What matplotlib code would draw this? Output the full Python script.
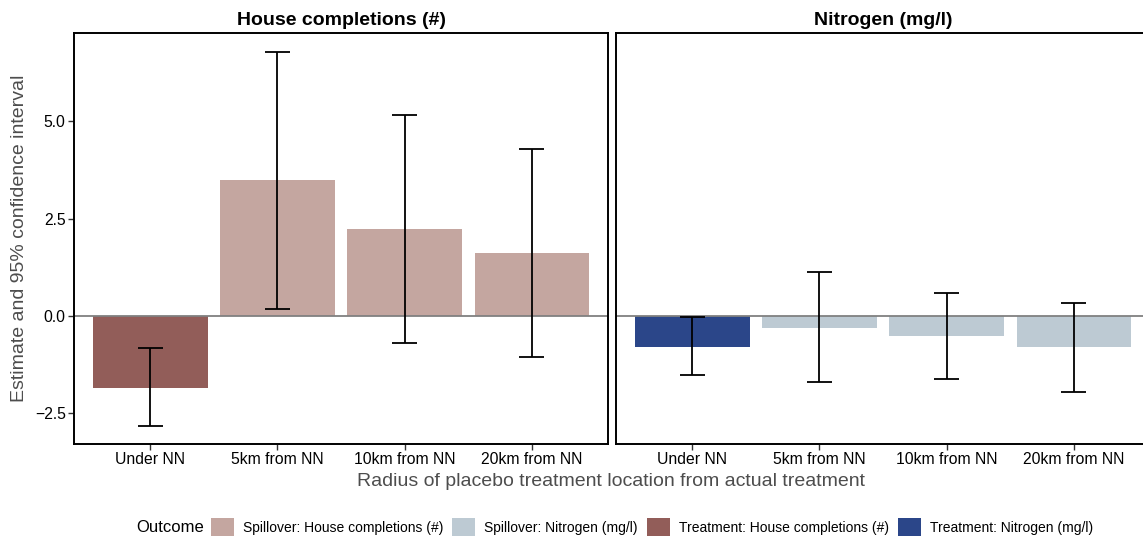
import numpy as np
import matplotlib
matplotlib.use("Agg")
import matplotlib.pyplot as plt
from matplotlib.patches import Patch
from matplotlib.ticker import FuncFormatter

plt.rcParams['font.family'] = ['Liberation Sans', 'DejaVu Sans']

categories = ["Under NN", "5km from NN", "10km from NN", "20km from NN"]
roles = ["Treatment", "Spillover", "Spillover", "Spillover"]

# house completions (#)
house_est = [-1.86, 3.50, 2.23, 1.62]
house_lo = [-2.84, 0.17, -0.72, -1.07]
house_hi = [-0.83, 6.80, 5.16, 4.30]

# nitrogen (mg/l)
nitro_est = [-0.80, -0.31, -0.54, -0.82]
nitro_lo = [-1.52, -1.71, -1.64, -1.96]
nitro_hi = [-0.05, 1.11, 0.59, 0.33]

colors = {
    ("Spillover", "House completions (#)"): "#c4a6a0",
    ("Spillover", "Nitrogen (mg/l)"): "#bdcad3",
    ("Treatment", "House completions (#)"): "#925d59",
    ("Treatment", "Nitrogen (mg/l)"): "#2b4689",
}

W, H = 1143, 538
fig = plt.figure(figsize=(W / 100, H / 100), dpi=100)

def px_axes(x0, x1, y0, y1):
    return fig.add_axes([x0 / W, 1 - y1 / H, (x1 - x0) / W, (y1 - y0) / H])

ax_h = px_axes(74, 608, 33, 444)
ax_n = px_axes(616, 1150, 33, 444)

panels = [
    (ax_h, "House completions (#)", house_est, house_lo, house_hi),
    (ax_n, "Nitrogen (mg/l)", nitro_est, nitro_lo, nitro_hi),
]

x = np.arange(1, len(categories) + 1)
minus_fmt = FuncFormatter(lambda v, p: f"{v:.1f}".replace("-", "\u2212"))

for ax, outcome, est, lo, hi in panels:
    bar_cols = [colors[(r, outcome)] for r in roles]
    ax.bar(x, est, width=0.9, color=bar_cols, zorder=1)
    ax.axhline(0, color="#808080", lw=1.3, zorder=2)
    ax.vlines(x, lo, hi, color="black", lw=1.3, zorder=3)
    ax.hlines(lo, x - 0.1, x + 0.1, color="black", lw=1.3, zorder=3)
    ax.hlines(hi, x - 0.1, x + 0.1, color="black", lw=1.3, zorder=3)

    ax.set_xlim(0.4, 4.6)
    ax.set_ylim(-3.31, 7.28)
    ax.set_xticks(x)
    ax.set_xticklabels(categories, fontsize=11.3, color="black")
    ax.set_yticks([-2.5, 0.0, 2.5, 5.0])
    ax.yaxis.set_major_formatter(minus_fmt)
    ax.tick_params(axis="both", length=4, width=1, color="#333333",
                   labelsize=11.3, labelcolor="black", pad=2)
    for sp in ax.spines.values():
        sp.set_linewidth(1.4)
        sp.set_color("black")
    ax.set_title(outcome, fontsize=14, fontweight="bold", pad=6)

ax_n.tick_params(axis="y", left=False, labelleft=False)

fig.text(20 / W, 1 - 238.5 / H, "Estimate and 95% confidence interval",
         rotation=90, ha="center", va="center", fontsize=14, color="#4d4d4d")
fig.text(611 / W, 1 - 481 / H,
         "Radius of placebo treatment location from actual treatment",
         ha="center", va="center", fontsize=14, color="#4d4d4d")

handles = [Patch(facecolor=c, edgecolor="none") for c in colors.values()]
labels = [f"{r}: {o}" for (r, o) in colors.keys()]
fig.legend(handles, labels, ncol=4, loc="center", frameon=False,
           bbox_to_anchor=(652 / W, 1 - 527 / H), fontsize=10,
           handlelength=1.65, handleheight=1.6, handletextpad=0.65,
           columnspacing=0.65, borderpad=0, borderaxespad=0)
fig.text(136 / W, 1 - 527 / H, "Outcome", ha="left", va="center",
         fontsize=12, color="black")

fig.savefig("out.png", dpi=100)
